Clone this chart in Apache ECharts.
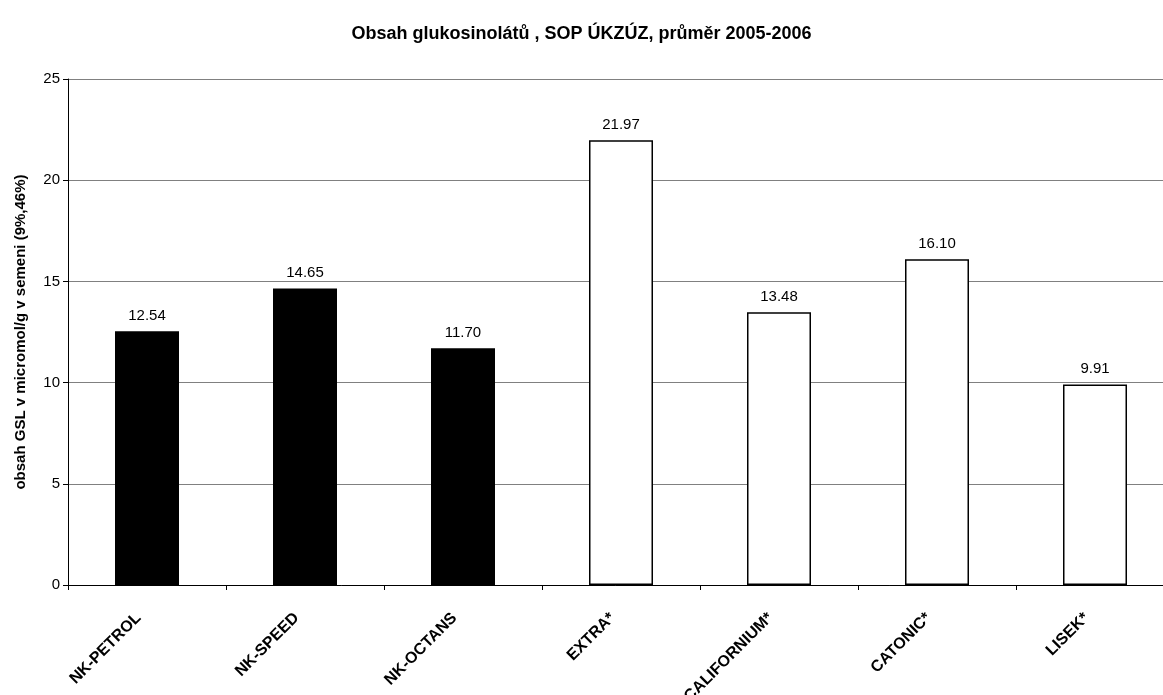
<!DOCTYPE html>
<html><head><meta charset="utf-8">
<script src="https://cdn.jsdelivr.net/npm/echarts@6/dist/echarts.min.js"></script>
<style>html,body{margin:0;padding:0;background:#fff}#c{width:1163px;height:695px}</style>
</head><body><div id="c"></div>
<script>
const categories = ['NK-PETROL','NK-SPEED','NK-OCTANS','EXTRA*','CALIFORNIUM*','CATONIC*','LISEK*'];
const values = [12.54, 14.65, 11.70, 21.97, 13.48, 16.10, 9.91];
const barColors = ['#000000','#000000','#000000','#ffffff','#ffffff','#ffffff','#ffffff'];
const yTicks = [0, 5, 10, 15, 20, 25];

const chart = echarts.init(document.getElementById('c'));
const F = 'Liberation Sans, Arial, sans-serif';
chart.setOption({
  animation: false,
  backgroundColor: '#ffffff',
  title: {
    text: 'Obsah glukosinolátů , SOP ÚKZÚZ, průměr 2005-2006',
    left: 'center', top: 20,
    textStyle: {fontFamily: F, fontSize: 18, fontWeight: 'bold', color: '#000'}
  },
  grid: {left: 68, top: 79, width: 1106, height: 506, containLabel: false, outerBoundsMode: 'none'},
  xAxis: {
    type: 'category', data: categories,
    axisLine: {lineStyle: {color: '#000', width: 1}},
    axisTick: {show: true, alignWithLabel: false, length: 5, lineStyle: {color: '#000'}},
    axisLabel: {rotate: 45, fontFamily: F, fontSize: 16, fontWeight: 'bold', color: '#000', margin: 22, padding: [0, 12, 0, 0], interval: 0}
  },
  yAxis: {
    type: 'value', min: yTicks[0], max: yTicks[yTicks.length-1], interval: 5,
    name: 'obsah GSL v micromol/g v semeni (9%,46%)',
    nameLocation: 'middle', nameGap: 40,
    nameTextStyle: {fontFamily: F, fontSize: 15, fontWeight: 'bold', color: '#000'},
    axisLine: {show: true, lineStyle: {color: '#000', width: 1}},
    axisTick: {show: true, length: 5, lineStyle: {color: '#000'}},
    axisLabel: {fontFamily: F, fontSize: 15, color: '#000', margin: 8},
    splitLine: {show: true, lineStyle: {color: '#808080', width: 1}}
  },
  series: [{
    type: 'bar',
    data: values.map((v, i) => ({value: v, itemStyle: {color: barColors[i]}})),
    barWidth: 64,
    itemStyle: {borderColor: '#000', borderWidth: 1.5},
    label: {
      show: true, position: 'top', distance: 8,
      formatter: p => p.value.toFixed(2),
      fontFamily: F, fontSize: 15, color: '#000'
    }
  }]
});
</script></body></html>
